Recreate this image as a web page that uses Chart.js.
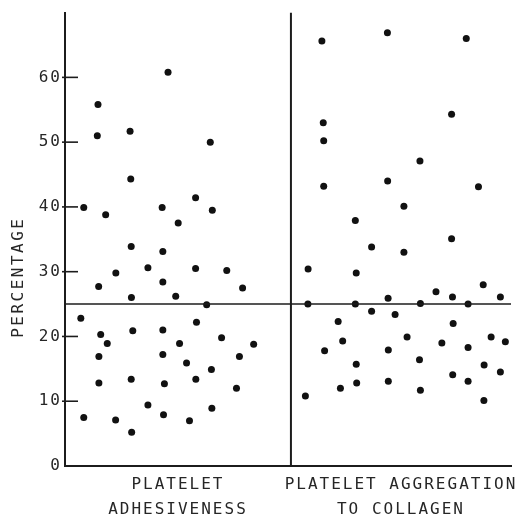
<!DOCTYPE html>
<html>
<head>
<meta charset="utf-8">
<script src="https://cdn.jsdelivr.net/npm/chart.js@4"></script>
<style>
  html, body { margin: 0; padding: 0; background: #fff; }
  #wrap { width: 515px; height: 522px; }
</style>
</head>
<body>
<div id="wrap"><canvas id="c" width="515" height="522"></canvas></div>
<script>
// ---- data ----
const categories = [["PLATELET", "ADHESIVENESS"], ["PLATELET AGGREGATION", "TO COLLAGEN"]];
const categoryCenters = [0.5, 1.487];
const yTicks = [0, 10, 20, 30, 40, 50, 60];
const yTitle = "PERCENTAGE";
const threshold = 25;
const divider = 1;

// Platelet adhesiveness: horizontal jitter position and percentage
const adhesX = [0.456,0.146,0.143,0.288,0.643,0.291,0.083,0.180,0.430,0.578,
                0.652,0.501,0.293,0.433,0.225,0.367,0.578,0.716,0.149,0.433,
                0.786,0.294,0.490,0.627,0.070,0.582,0.158,0.300,0.433,0.187,
                0.507,0.693,0.835,0.150,0.433,0.772,0.538,0.648,0.150,0.293,
                0.440,0.579,0.759,0.367,0.650,0.083,0.224,0.436,0.551,0.295];
const adhesY = [60.8,55.8,51.0,51.7,50.0,44.3,39.9,38.8,39.9,41.4,
                39.5,37.5,33.9,33.1,29.8,30.6,30.5,30.2,27.7,28.4,
                27.5,26.0,26.2,24.9,22.8,22.2,20.3,20.9,21.0,18.9,
                18.9,19.8,18.8,16.9,17.2,16.9,15.9,14.9,12.8,13.4,
                12.7,13.4,12.0,9.4,8.9,7.5,7.1,7.9,7.0,5.2];

// Platelet aggregation to collagen
const aggX = [1.137,1.427,1.776,1.711,1.143,1.145,1.571,1.145,1.428,1.830,
              1.500,1.285,1.711,1.357,1.500,1.076,1.289,1.075,1.285,1.357,
              1.430,1.461,1.573,1.642,1.715,1.784,1.851,1.927,1.209,1.718,
              1.229,1.149,1.514,1.668,1.431,1.784,1.886,1.949,1.289,1.569,
              1.855,1.716,1.784,1.927,1.219,1.291,1.431,1.573,1.064,1.854];
const aggY = [65.6,66.9,66.0,54.3,53.0,50.2,47.1,43.2,44.0,43.1,
              40.1,37.9,35.1,33.8,33.0,30.4,29.8,25.0,25.0,23.9,
              25.9,23.4,25.1,26.9,26.1,25.0,28.0,26.1,22.3,22.0,
              19.3,17.8,19.9,19.0,17.9,18.3,19.9,19.2,15.7,16.4,
              15.6,14.1,13.1,14.5,12.0,12.8,13.1,11.7,10.8,10.1];

const X_MAX = 1.974;
const Y_MAX = 70;

const INK = '#1c1c1c';
const TEXT = '#262626';
const FONT = '"DejaVu Sans Mono", monospace';

const toPts = (xs, ys) => xs.map((x, i) => ({ x: x, y: ys[i] }));

const decor = {
  id: 'decor',
  beforeDraw(chart) {
    chart.ctx.letterSpacing = '2px';
  },
  afterDraw(chart) {
    const ctx = chart.ctx;
    const ys = chart.scales.y;
    const area = chart.chartArea;
    ctx.save();
    // inward tick marks
    ctx.strokeStyle = INK;
    ctx.lineWidth = 1.6;
    yTicks.forEach(v => {
      if (v === 0) return;
      const py = ys.getPixelForValue(v);
      ctx.beginPath();
      ctx.moveTo(area.left - 3, py);
      ctx.lineTo(area.left + 13, py);
      ctx.stroke();
    });
    // y title
    ctx.fillStyle = TEXT;
    ctx.font = '16px ' + FONT;
    ctx.letterSpacing = '2.5px';
    ctx.textAlign = 'center';
    ctx.textBaseline = 'middle';
    ctx.translate(19, ys.getPixelForValue(29));
    ctx.rotate(-Math.PI / 2);
    ctx.fillText(yTitle, 1, 0);
    ctx.restore();
    ctx.letterSpacing = '0px';
  }
};

new Chart(document.getElementById('c'), {
  type: 'scatter',
  data: {
    datasets: [
      {
        label: 'threshold',
        type: 'line',
        data: [{ x: 0, y: threshold }, { x: X_MAX, y: threshold }],
        borderColor: INK, borderWidth: 1.6, pointRadius: 0, fill: false
      },
      {
        label: 'divider',
        type: 'line',
        data: [{ x: divider, y: 0 }, { x: divider, y: Y_MAX }],
        borderColor: INK, borderWidth: 2, pointRadius: 0, fill: false
      },
      {
        label: 'Platelet adhesiveness',
        data: toPts(adhesX, adhesY),
        backgroundColor: '#111', borderColor: '#111', pointRadius: 3.5, borderWidth: 0
      },
      {
        label: 'Platelet aggregation to collagen',
        data: toPts(aggX, aggY),
        backgroundColor: '#111', borderColor: '#111', pointRadius: 3.5, borderWidth: 0
      }
    ]
  },
  options: {
    responsive: false,
    animation: false,
    devicePixelRatio: 1,
    layout: { padding: { top: 7, left: 0, right: 0, bottom: 0 } },
    plugins: { legend: { display: false }, tooltip: { enabled: false } },
    scales: {
      x: {
        type: 'linear',
        min: 0, max: X_MAX,
        grid: { display: false, drawTicks: false },
        border: { display: true, color: INK, width: 2 },
        afterBuildTicks: s => { s.ticks = categoryCenters.map(v => ({ value: v })); },
        afterFit: s => { s.height = 56; },
        ticks: {
          autoSkip: false, maxRotation: 0, minRotation: 0,
          padding: 6,
          color: TEXT,
          font: { family: FONT, size: 16, lineHeight: 1.56 },
          callback: (v, i) => categories[i]
        }
      },
      y: {
        type: 'linear',
        min: 0, max: Y_MAX,
        grid: { display: false, drawTicks: false },
        border: { display: true, color: INK, width: 2 },
        afterBuildTicks: s => { s.ticks = yTicks.map(v => ({ value: v })); },
        afterFit: s => { s.width = 65; },
        ticks: {
          padding: 3,
          color: TEXT,
          font: { family: FONT, size: 16 },
          callback: v => String(v)
        }
      }
    }
  },
  plugins: [decor]
});
</script>
</body>
</html>
